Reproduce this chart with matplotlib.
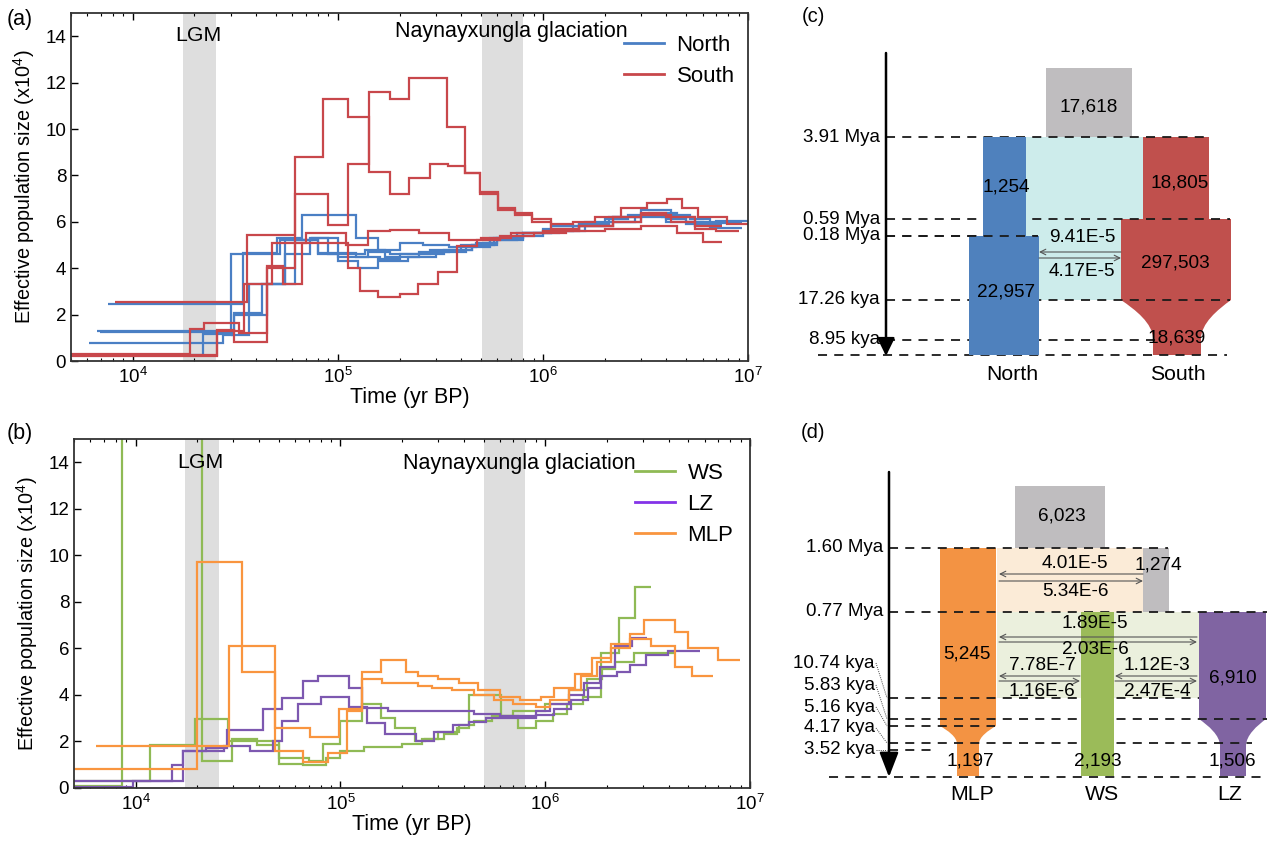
import matplotlib
matplotlib.use("Agg")
import matplotlib.pyplot as plt
from matplotlib.patches import Rectangle, PathPatch
from matplotlib.path import Path
from matplotlib.lines import Line2D

plt.rcParams['font.family'] = ['Liberation Sans', 'DejaVu Sans']
plt.rcParams['mathtext.fontset'] = 'custom'
plt.rcParams['mathtext.rm'] = 'Liberation Sans'
plt.rcParams['mathtext.it'] = 'Liberation Sans:italic'
plt.rcParams['mathtext.bf'] = 'Liberation Sans:bold'

# ---------------- PSMC data (time in years, Ne in 10^4) ----------------
# each curve: edges (n+1) and values (n), value i holds from edge i to edge i+1
north_1_t = [7.6e3, 34.5e3, 50.5e3, 67e3, 123e3, 157e3, 200e3, 260e3, 350e3, 470e3, 600e3, 800e3,
             1.1e6, 1.5e6, 2.0e6, 2.6e6, 3.3e6, 4.5e6, 5.5e6, 7e6, 1e7]
north_1_n = [2.45, 4.65, 5.3, 6.3, 5.3, 4.8, 5.1, 5.0, 4.9, 5.1, 5.3, 5.5, 5.7, 5.9, 6.1, 6.3, 6.4, 6.2, 6.0, 6.05]
north_2_t = [6.7e3, 31e3, 42.7e3, 55e3, 80e3, 123e3, 160e3, 220e3, 300e3, 420e3, 550e3, 750e3,
             1.0e6, 1.4e6, 2.0e6, 2.8e6, 4.0e6, 5.5e6, 7.5e6]
north_2_n = [1.3, 2.05, 3.3, 5.2, 4.65, 4.5, 4.3, 4.5, 4.7, 4.9, 5.2, 5.4, 5.6, 5.8, 6.0, 6.2, 6.0, 5.8]
north_3_t = [6.9e3, 30.5e3, 37e3, 55e3, 73e3, 100e3, 125e3, 157e3, 200e3, 280e3, 400e3, 550e3,
             750e3, 1.0e6, 1.5e6, 2.1e6, 3.0e6, 4.2e6, 5.2e6, 6.5e6, 9.4e6]
north_3_n = [1.25, 1.1, 3.3, 4.6, 5.3, 4.3, 4.0, 4.4, 4.6, 4.8, 5.0, 5.3, 5.5, 5.7, 5.9, 6.2, 6.5, 6.3, 6.1, 5.95]
north_4_t = [6.1e3, 27.6e3, 31e3, 45e3, 62e3, 80e3, 100e3, 140e3, 180e3, 250e3, 350e3, 450e3,
             600e3, 800e3, 1.2e6, 1.6e6, 2.2e6, 3.0e6, 4.0e6, 5.0e6, 6.5e6, 9.3e6]
north_4_n = [0.77, 1.1, 2.0, 3.3, 5.2, 4.6, 4.5, 4.7, 4.6, 4.7, 4.8, 5.0, 5.2, 5.5, 5.6, 5.8, 6.0, 6.3, 6.1, 5.9, 5.75]
north_5_t = [5e3, 22e3, 30e3, 52e3, 75e3, 90e3, 135e3, 170e3, 250e3, 330e3, 450e3, 580e3, 800e3,
             1.1e6, 1.6e6, 2.2e6, 3.0e6, 3.8e6, 5.0e6, 6.0e6, 7.5e6]
north_5_n = [0.25, 1.15, 4.6, 5.2, 5.3, 4.6, 4.8, 4.5, 4.6, 4.8, 5.0, 5.3, 5.5, 5.8, 6.0, 6.2, 6.3, 6.2, 6.0, 5.85]

south_1_t = [5e3, 19e3, 22.3e3, 33e3, 45e3, 62e3, 90e3, 112e3, 142e3, 180e3, 222e3, 341e3, 417e3,
             493e3, 604e3, 731e3, 885e3, 1.1e6, 1.4e6, 1.8e6, 2.4e6, 3.2e6, 4.03e6, 4.76e6, 5.7e6, 7.9e6, 1e7]
south_1_n = [0.3, 1.4, 1.65, 1.2, 4.0, 7.2, 5.85, 8.5, 11.6, 11.3, 12.2, 10.1, 8.1, 7.3, 6.6, 6.3,
             6.1, 5.9, 6.0, 6.2, 6.6, 6.8, 7.0, 6.6, 6.2, 5.9]
south_2_t = [8.2e3, 36e3, 62e3, 85e3, 112e3, 142e3, 180e3, 222e3, 281e3, 345e3, 417e3, 493e3, 604e3,
             731e3, 885e3, 1.1e6, 1.5e6, 2.2e6, 3.0e6, 4.0e6, 5.5e6, 7.5e6]
south_2_n = [2.55, 5.45, 8.8, 11.3, 10.5, 8.15, 7.2, 7.9, 8.5, 8.4, 8.1, 7.2, 6.5, 6.4, 6.0, 5.7,
             5.8, 6.2, 6.4, 6.2, 5.8]
south_3_t = [5e3, 25.8e3, 31e3, 45e3, 54e3, 67e3, 112e3, 128e3, 157e3, 201e3, 246e3, 308e3, 381e3,
             477e3, 618e3, 900e3, 1.3e6, 2.0e6, 3.0e6, 4.5e6, 6e6, 7.5e6]
south_3_n = [0.2, 1.35, 0.8, 4.1, 3.3, 5.1, 4.0, 3.0, 2.75, 2.9, 3.3, 3.85, 4.95, 5.2, 5.4, 5.5,
             5.6, 5.7, 5.8, 5.5, 5.15]
south_4_t = [5e3, 25.8e3, 35e3, 48e3, 70e3, 110e3, 140e3, 180e3, 250e3, 350e3, 500e3, 700e3, 1e6,
             1.5e6, 2.2e6, 3e6, 4.2e6, 5.5e6, 7e6, 9e6]
south_4_n = [0.25, 1.3, 3.3, 5.1, 5.5, 5.0, 5.6, 5.65, 5.5, 5.2, 5.3, 5.5, 5.6, 5.8, 6.0, 6.3, 6.0, 5.7, 5.6]

ws_1_t = [5e3, 8.6e3, 21e3, 29.6e3, 39e3, 50e3, 66e3, 85e3, 100e3, 130e3, 200e3, 250e3, 300e3,
          380e3, 450e3, 550e3, 700e3, 1.0e6, 1.3e6, 1.6e6, 1.9e6, 2.2e6, 2.7e6, 4.3e6]
ws_1_n = [0.1, 40, 1.15, 2.1, 1.85, 1.05, 1.0, 1.3, 1.6, 1.75, 1.9, 2.1, 2.4, 2.7, 2.9, 3.1, 3.3,
          3.6, 4.2, 4.7, 5.1, 5.4, 5.8]
ws_2_t = [5e3, 11.7e3, 19.5e3, 28.2e3, 50e3, 70e3, 82e3, 100e3, 128e3, 157e3, 185e3, 230e3, 260e3,
          320e3, 370e3, 424e3, 608e3, 738e3, 900e3, 1.09e6, 1.28e6, 1.53e6, 1.87e6, 2.28e6, 2.73e6, 3.3e6]
ws_2_n = [0.3, 1.85, 2.95, 2.0, 1.3, 1.15, 1.9, 2.9, 3.6, 3.0, 2.6, 2.0, 2.1, 2.3, 2.6, 4.0, 3.1,
          2.6, 2.9, 3.2, 3.6, 3.9, 5.8, 7.3, 8.65]
lz_1_t = [5e3, 9.7e3, 15e3, 17e3, 22e3, 28e3, 42e3, 52e3, 66e3, 78e3, 110e3, 128e3, 170e3, 450e3,
          600e3, 900e3, 1.05e6, 1.3e6, 1.55e6, 1.85e6, 2.2e6, 2.64e6, 3.15e6]
lz_1_n = [0.05, 0.3, 1.0, 1.6, 1.7, 2.5, 3.4, 3.85, 4.6, 4.8, 4.3, 3.45, 3.3, 3.2, 3.1, 3.3, 3.6,
          4.0, 4.5, 5.2, 6.1, 6.45]
lz_2_t = [5e3, 17e3, 27e3, 36e3, 47e3, 52e3, 62e3, 80e3, 110e3, 135e3, 165e3, 233e3, 287e3, 353e3,
          426e3, 514e3, 903e3, 1.11e6, 1.34e6, 1.62e6, 1.88e6, 2.23e6, 2.59e6, 3.12e6, 3.99e6, 5.7e6]
lz_2_n = [0.3, 1.6, 1.8, 1.6, 2.0, 2.9, 3.6, 3.9, 3.5, 2.8, 2.3, 2.0, 2.4, 2.7, 2.85, 3.0, 3.15,
          3.4, 3.8, 4.3, 4.8, 5.0, 5.3, 5.7, 5.9]
mlp_1_t = [6.4e3, 28.5e3, 48e3, 66e3, 87e3, 108e3, 128e3, 160e3, 240e3, 280e3, 350e3, 450e3, 560e3,
           700e3, 900e3, 1.05e6, 1.3e6, 1.5e6, 1.8e6, 2.1e6, 2.58e6, 3.3e6, 4.29e6, 5.2e6, 6.6e6]
mlp_1_n = [1.8, 6.1, 1.6, 1.1, 1.5, 3.3, 4.7, 4.5, 4.4, 4.3, 4.2, 4.0, 3.8, 3.6, 3.5, 3.8, 4.2,
           4.8, 5.4, 6.0, 6.4, 6.1, 5.2, 4.8]
mlp_2_t = [5e3, 19.9e3, 33e3, 48e3, 71e3, 98e3, 128e3, 157e3, 208e3, 240e3, 300e3, 380e3, 470e3,
           600e3, 750e3, 950e3, 1.1e6, 1.4e6, 1.7e6, 2.1e6, 2.6e6, 3.02e6, 4.29e6, 5.0e6, 7.0e6, 8.97e6]
mlp_2_n = [0.8, 9.7, 5.0, 2.6, 2.2, 3.4, 5.0, 5.5, 5.0, 4.8, 4.7, 4.5, 4.2, 3.9, 3.8, 3.9, 4.3,
           4.9, 5.6, 6.2, 6.6, 7.2, 6.7, 6.0, 5.5]

lgm = (17.5e3, 25.5e3)
naynay = (5.05e5, 8.0e5)

# ---------------- demographic model data ----------------
c_time_labels = ['3.91 Mya', '0.59 Mya', '0.18 Mya', '17.26 kya', '8.95 kya']
c_anc_ne = 17618
c_north_ne = [1254, 22957]
c_south_ne = [18805, 297503, 18639]
c_mig = ['9.41E-5', '4.17E-5']

d_time_labels = ['1.60 Mya', '0.77 Mya', '10.74 kya', '5.83 kya', '5.16 kya', '4.17 kya', '3.52 kya']
d_anc_ne = 6023
d_wslz_anc_ne = 1274
d_mlp_ne = [5245, 1197]
d_ws_ne = [2193]
d_lz_ne = [6910, 1506]
d_mig_mlp_anc = ['4.01E-5', '5.34E-6']
d_mig_mlp_lz = ['1.89E-5', '2.03E-6']
d_mig_mlp_ws = ['7.78E-7', '1.16E-6']
d_mig_ws_lz = ['1.12E-3', '2.47E-4']

C_NORTH, C_SOUTH = '#4a7fc4', '#c8474b'
C_WS, C_LZ, C_MLP = '#8fba55', '#7d58b0', '#f9953f'

fig = plt.figure(figsize=(12.71, 8.43), dpi=100)


def psmc_axes(rect):
    ax = fig.add_axes(rect)
    ax.set_xscale('log')
    ax.set_xlim(5e3, 1e7)
    ax.set_ylim(0, 15)
    ax.set_yticks(range(0, 15, 2))
    ax.tick_params(which='both', direction='in', top=True, right=False, labelsize=13.5)
    ax.tick_params(which='major', length=5, width=1)
    ax.tick_params(which='minor', length=2.5, width=0.8)
    ax.tick_params(axis='x', pad=4)
    for s in ax.spines.values():
        s.set_linewidth(1.3)
        s.set_color('#333333')
    ax.set_xlabel('Time (yr BP)', fontsize=15.5, labelpad=0)
    ax.set_ylabel('Effective population size (x10$^4$)', fontsize=14.3, labelpad=6)
    ax.axvspan(*lgm, color='#dedede', lw=0, zorder=0)
    ax.axvspan(*naynay, color='#dedede', lw=0, zorder=0)
    return ax


# ---- (a)
ax_a = psmc_axes([71 / 1271, 1 - 361 / 843, 677 / 1271, 348 / 843])
for t, n in [(north_1_t, north_1_n), (north_2_t, north_2_n), (north_3_t, north_3_n),
             (north_4_t, north_4_n), (north_5_t, north_5_n)]:
    ax_a.stairs(n, t, baseline=None, color=C_NORTH, lw=1.6, zorder=2)
for t, n in [(south_1_t, south_1_n), (south_2_t, south_2_n), (south_3_t, south_3_n), (south_4_t, south_4_n)]:
    ax_a.stairs(n, t, baseline=None, color=C_SOUTH, lw=1.6, zorder=2)
ax_a.text(2.1e4, 0.935, 'LGM', transform=ax_a.get_xaxis_transform(), ha='center', va='center', fontsize=15.3)
ax_a.text(7.0e5, 0.948, 'Naynayxungla glaciation', transform=ax_a.get_xaxis_transform(),
          ha='center', va='center', fontsize=15.5)
ax_a.legend(handles=[Line2D([], [], color=C_NORTH, lw=2), Line2D([], [], color=C_SOUTH, lw=2)],
            labels=['North', 'South'], loc='upper right', bbox_to_anchor=(1.0, 0.975),
            frameon=False, fontsize=16, handlelength=1.8, handletextpad=0.55, labelspacing=0.45,
            borderaxespad=0.2)

# ---- (b)
ax_b = psmc_axes([74 / 1271, 1 - 788 / 843, 676 / 1271, 349 / 843])
for t, n, c in [(ws_1_t, ws_1_n, C_WS), (ws_2_t, ws_2_n, C_WS),
                (lz_1_t, lz_1_n, C_LZ), (lz_2_t, lz_2_n, C_LZ),
                (mlp_1_t, mlp_1_n, C_MLP), (mlp_2_t, mlp_2_n, C_MLP)]:
    ax_b.stairs(n, t, baseline=None, color=c, lw=1.6, zorder=2)
ax_b.text(2.06e4, 0.932, 'LGM', transform=ax_b.get_xaxis_transform(), ha='center', va='center', fontsize=15.3)
ax_b.text(7.45e5, 0.931, 'Naynayxungla glaciation', transform=ax_b.get_xaxis_transform(),
          ha='center', va='center', fontsize=15.5)
ax_b.legend(handles=[Line2D([], [], color=C_WS, lw=2), Line2D([], [], color='#8433e8', lw=2),
                     Line2D([], [], color=C_MLP, lw=2)],
            labels=['WS', 'LZ', 'MLP'], loc='upper right', bbox_to_anchor=(0.995, 0.97),
            frameon=False, fontsize=16, handlelength=1.8, handletextpad=0.55, labelspacing=0.45,
            borderaxespad=0.2)

fig.text(7 / 1271, 1 - 19 / 843, '(a)', fontsize=15.5, va='center')
fig.text(7 / 1271, 1 - 434 / 843, '(b)', fontsize=15.5, va='center')

# ---------------- (c) and (d) schematic panels, drawn in pixel units ----------------
axr = fig.add_axes([780 / 1271, 0, 491 / 1271, 1])
axr.set_xlim(780, 1271)
axr.set_ylim(843, 0)
axr.axis('off')

OFFICE_GRAY = '#bfbdbf'


def box(x0, x1, y0, y1, color, z=2):
    axr.add_patch(Rectangle((x0, y0), x1 - x0, y1 - y0, facecolor=color, edgecolor='none', zorder=z))


def neck(x0, x1, y0, yns, yne, ybot, nx0, nx1, color, z=2):
    # wide block narrowing through a concave curved neck
    c1 = yns + 0.25 * (yne - yns)
    c2 = yns + 0.75 * (yne - yns)
    verts = [(x0, y0), (x0, yns),
             (x0 + 0.45 * (nx0 - x0), c1), (nx0, c2 - 0.15 * (yne - yns)), (nx0, yne),
             (nx0, ybot), (nx1, ybot), (nx1, yne),
             (nx1, c2 - 0.15 * (yne - yns)), (x1 - 0.45 * (x1 - nx1), c1), (x1, yns),
             (x1, y0), (x0, y0)]
    codes = [Path.MOVETO, Path.LINETO, Path.CURVE4, Path.CURVE4, Path.CURVE4,
             Path.LINETO, Path.LINETO, Path.LINETO,
             Path.CURVE4, Path.CURVE4, Path.CURVE4, Path.LINETO, Path.CLOSEPOLY]
    axr.add_patch(PathPatch(Path(verts, codes), facecolor=color, edgecolor='none', zorder=z))


def dashed(y, x0, x1, z=3):
    axr.plot([x0, x1], [y, y], color='#1a1a1a', lw=1.3, ls=(0, (5, 4)), zorder=z)


def mig(y_left, y_right, x0, x1):
    axr.annotate('', xy=(x0, y_left), xytext=(x1, y_left),
                 arrowprops=dict(arrowstyle='->', lw=0.8, color='#555555', shrinkA=0, shrinkB=0), zorder=5)
    axr.annotate('', xy=(x1, y_right), xytext=(x0, y_right),
                 arrowprops=dict(arrowstyle='->', lw=0.8, color='#555555', shrinkA=0, shrinkB=0), zorder=5)


def time_arrow(x, y0, y1, head_length=0.4, head_width=0.2):
    axr.annotate('', xy=(x, y1), xytext=(x, y0),
                 arrowprops=dict(arrowstyle=f'-|>,head_length={head_length},head_width={head_width}',
                                 lw=1.8, color='black', mutation_scale=24, shrinkA=0, shrinkB=0), zorder=6)


def txt(x, y, s, size=13.7, ha='center', z=7):
    axr.text(x, y, s, fontsize=size, ha=ha, va='center', zorder=z)


# ---- (c)
txt(813, 17, '(c)', size=14.5)
time_arrow(886, 53, 356, 0.45, 0.22)
c_y = [137, 219, 236, 300, 340]
box(1046, 1132, 68, 137, OFFICE_GRAY)
box(1026, 1143, 137, 300, '#cdeceb', z=1)
box(983, 1026, 137, 236, '#4f81bd', z=4)
box(969, 1039, 236, 355, '#4f81bd', z=4)
box(1143, 1209, 137, 219, '#c0504d')
neck(1121, 1231, 219, 300, 339, 355, 1153, 1201, '#c0504d')
for y, x1 in zip(c_y, [1208, 1230, 1038, 1230, 1160]):
    dashed(y, 886, x1, z=3)
dashed(236, 886, 1038, z=5)
dashed(355, 818, 1227, z=3)
for y, s in zip(c_y, c_time_labels):
    txt(880, y, s, size=13.5, ha='right')
txt(1089, 107, f'{c_anc_ne:,}')
txt(1006, 187, f'{c_north_ne[0]:,}')
txt(1006, 292, f'{c_north_ne[1]:,}')
txt(1180, 183, f'{c_south_ne[0]:,}')
txt(1175, 263, f'{c_south_ne[1]:,}')
txt(1177, 338, f'{c_south_ne[2]:,}')
mig(252, 258, 1039, 1121)
txt(1082, 237, c_mig[0])
txt(1082, 271, c_mig[1])
txt(1012, 374, 'North', size=15.3)
txt(1178, 374, 'South', size=15.3)

# ---- (d)
txt(813, 433, '(d)', size=14.5)
time_arrow(889, 472, 777, 0.62, 0.24)
box(1015, 1105, 486, 548, OFFICE_GRAY)
box(997, 1143, 548, 612, '#fbebd7', z=1)
box(1143, 1169, 548, 612, OFFICE_GRAY)
box(997, 1199, 612, 698, '#ebf0dd', z=1)
neck(940, 996, 548, 726, 744, 776, 957, 979, '#f39343')
box(1081, 1114, 612, 776, '#9bbb59', z=4)
neck(1199, 1266, 612, 719, 746, 776, 1220, 1246, '#8064a2')
d_y = [548, 612, 698, 719, 726, 743, 750]
for y, x1 in zip(d_y, [1168, 1267, 1199, 1267, 995, 1252, 935]):
    dashed(y, 889, x1, z=3)
dashed(777, 829, 1267, z=3)
txt(883, 548, d_time_labels[0], size=13.5, ha='right')
txt(883, 612, d_time_labels[1], size=13.5, ha='right')
for lab_y, line_y, s in zip([663, 685, 707, 728, 750], d_y[2:], d_time_labels[2:]):
    txt(875, lab_y, s, size=13.5, ha='right')
    axr.plot([876, 887], [lab_y, line_y], color='#444444', lw=0.7, ls=(0, (1, 1.2)), zorder=5)
txt(1062, 516, f'{d_anc_ne:,}')
txt(1158, 565, f'{d_wslz_anc_ne:,}')
mig(574, 581, 999, 1143)
txt(1075, 563, d_mig_mlp_anc[0])
txt(1075, 591, d_mig_mlp_anc[1])
mig(637, 642, 999, 1197)
txt(1095, 624, d_mig_mlp_lz[0])
txt(1095, 650, d_mig_mlp_lz[1])
mig(676, 681, 999, 1080)
txt(1042, 666, d_mig_mlp_ws[0])
txt(1042, 692, d_mig_mlp_ws[1])
mig(676, 681, 1115, 1197)
txt(1157, 666, d_mig_ws_lz[0])
txt(1157, 692, d_mig_ws_lz[1])
txt(967, 654, f'{d_mlp_ne[0]:,}')
txt(970, 761, f'{d_mlp_ne[1]:,}')
txt(1098, 761, f'{d_ws_ne[0]:,}')
txt(1233, 678, f'{d_lz_ne[0]:,}')
txt(1232, 761, f'{d_lz_ne[1]:,}')
txt(972, 795, 'MLP', size=15.3)
txt(1102, 795, 'WS', size=15.3)
txt(1230, 795, 'LZ', size=15.3)

fig.savefig('out.png', dpi=100)
